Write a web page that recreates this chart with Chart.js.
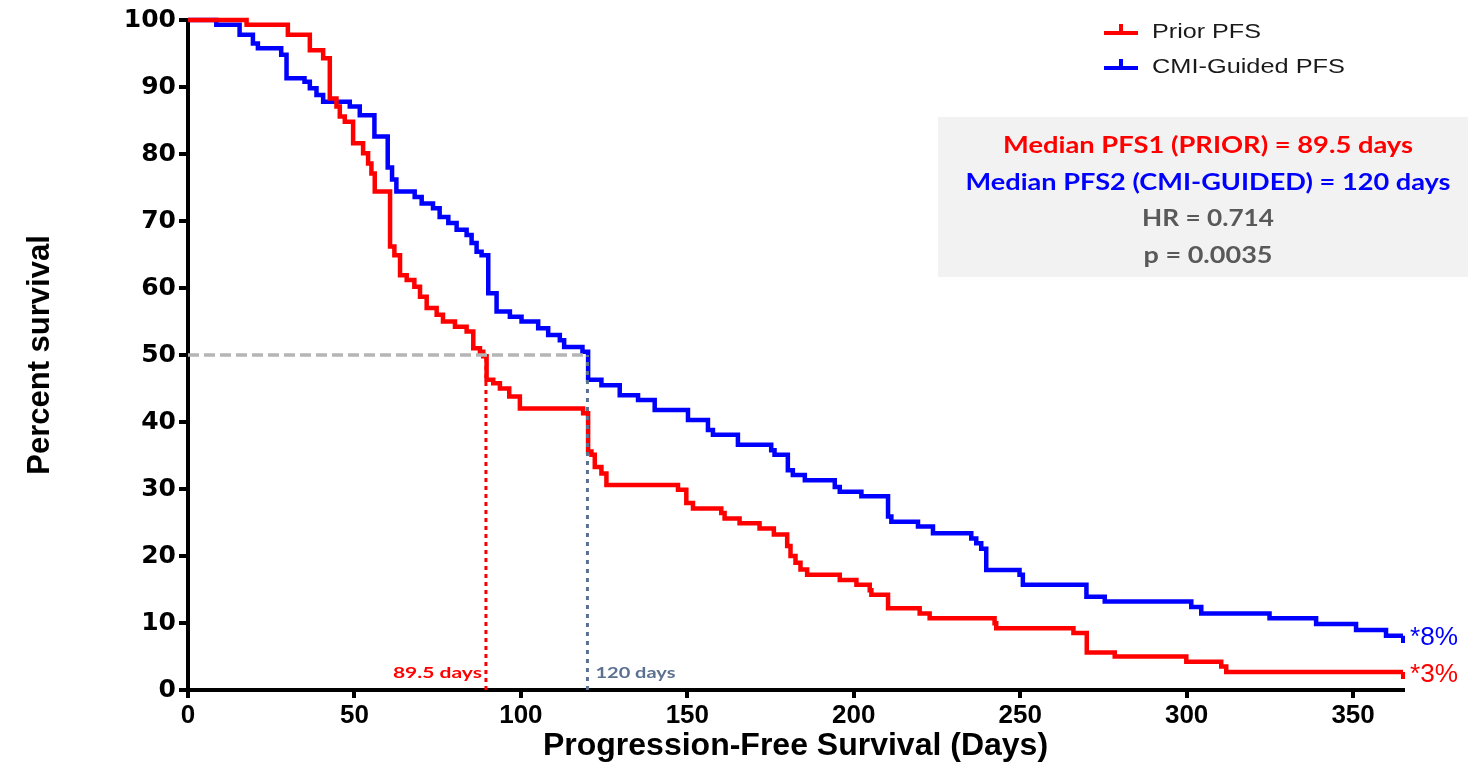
<!DOCTYPE html>
<html>
<head>
<meta charset="utf-8">
<script src="https://cdn.jsdelivr.net/npm/chart.js@4.4.0/dist/chart.umd.min.js"></script>
<style>
  html, body { margin: 0; padding: 0; background: #fff; }
</style>
</head>
<body>
<canvas id="kmChart" width="1468" height="765"></canvas>
<script>
  /* Data
  -----------------------------------------------*/
  const priorDays = [0, 17.6, 30, 36.6, 40.6, 42.6, 44.6, 45.6, 47.1, 49.6, 52.6, 54.1, 55.1, 56.1, 60.7, 62, 63.7, 65.7, 68, 69.7,
    71.7, 74.7, 76.6, 80.2, 83.7, 85.7, 87.7, 88.7, 89.7, 91.7, 93.7, 96.5, 99.7, 118.7, 120.2, 121.2, 122.2, 124.2, 125.7, 147.2,
    149.7, 151.7, 160.2, 161.2, 165.7, 171.7, 176, 180, 181, 182.5, 184, 186, 195.8, 200.8, 204.8, 205.3, 210.3, 219.8, 222.8, 242.3,
    242.8, 266, 270, 278.4, 299.9, 310.4, 311.9, 365];
  const priorPct = [100, 99.3, 97.8, 95.5, 94.3, 88.3, 87.1, 85.6, 84.8, 81.6, 80.1, 78.6, 77.1, 74.4, 66.2, 64.9, 61.9, 61.2, 60.2, 58.7,
    57.0, 56.0, 55.0, 54.2, 53.5, 51.0, 50.5, 49.8, 46.3, 45.8, 45.0, 43.8, 42.0, 41.3, 35.6, 35.1, 33.3, 32.3, 30.6, 29.9,
    27.9, 27.1, 26.4, 25.6, 24.9, 24.1, 23.2, 21.5, 20.0, 19.0, 18.0, 17.2, 16.4, 15.7, 14.9, 14.2, 12.2, 11.4, 10.7, 9.95,
    9.2, 8.5, 5.6, 5.0, 4.2, 3.5, 2.7, 2.7];

  const cmiDays = [0, 8.5, 15.5, 19.5, 21, 28, 29.6, 35, 36.6, 38.6, 40.6, 48.6, 51.6, 56, 60, 61.3, 62.6, 68.1, 70.2, 73.6,
    75.6, 78.2, 80.7, 83.7, 85.2, 86.7, 88.2, 90.2, 92.7, 96.7, 100.2, 105.2, 108.2, 111.7, 113, 118.5, 120.2, 124.2, 129.7, 135.2,
    140.2, 150.2, 156.2, 157.7, 165.2, 175.2, 176.2, 180.2, 181.7, 185.3, 194.3, 195.8, 202.3, 210.3, 211.3, 219.3, 223.8, 235.3, 236.8, 238.3,
    239.8, 249.8, 250.8, 269.9, 275.4, 301.4, 304.4, 324.9, 338.9, 350.9, 359.9, 365];
  const cmiPct = [100, 99.3, 97.8, 96.5, 95.8, 94.8, 91.3, 90.8, 89.8, 88.8, 87.8, 87.1, 85.8, 82.6, 78.0, 76.2, 74.4, 73.6, 72.6, 71.9,
    70.6, 69.7, 68.7, 67.9, 66.7, 65.4, 64.9, 59.2, 56.5, 55.7, 55.0, 54.0, 53.0, 52.2, 51.2, 50.5, 46.3, 45.5, 44.0, 43.3,
    41.8, 40.3, 38.8, 38.1, 36.6, 35.8, 35.1, 32.8, 32.1, 31.3, 30.3, 29.6, 28.9, 25.9, 25.1, 24.4, 23.4, 22.6, 21.9, 21.1,
    17.9, 17.2, 15.7, 13.9, 13.2, 12.4, 11.4, 10.7, 9.85, 8.96, 8.1, 8.1];

  const medianPrior = 89.5;
  const medianCmi = 120;
  const xTicks = [0, 50, 100, 150, 200, 250, 300, 350];
  const yTicks = [0, 10, 20, 30, 40, 50, 60, 70, 80, 90, 100];
  const seriesNames = ['Prior PFS', 'CMI-Guided PFS'];
  const endLabels = ['*3%', '*8%'];
  const statLines = ['Median PFS1 (PRIOR) = 89.5 days', 'Median PFS2 (CMI-GUIDED) = 120 days', 'HR = 0.714', 'p = 0.0035'];

  const RED = '#ff0000';
  const BLUE = '#0000ff';
  const SLATE = '#5b7190';

  function toPoints(xs, ys) {
    return xs.map((d, i) => ({ x: d, y: ys[i] }));
  }

  // small "censored" tick hanging under the last point
  function censorMark(color) {
    const c = document.createElement('canvas');
    c.width = 4; c.height = 14;
    const g = c.getContext('2d');
    g.fillStyle = color;
    g.fillRect(0, 7, 4, 7);
    return c;
  }

  // text squeezed/stretched to a given width
  function fitText(ctx, text, x, y, width, font, color, align) {
    ctx.save();
    ctx.font = font;
    ctx.fillStyle = color;
    ctx.textBaseline = 'middle';
    ctx.textAlign = align;
    const sx = width / ctx.measureText(text).width;
    ctx.translate(x, y);
    ctx.scale(sx, 1);
    ctx.fillText(text, 0, 0);
    ctx.restore();
  }

  /* Legend, stats box and labels
  -----------------------------------------------*/
  const extrasPlugin = {
    id: 'kmExtras',
    afterDraw(chart) {
      const ctx = chart.ctx;
      const xs = chart.scales.x, ys = chart.scales.y;
      const area = chart.chartArea;

      // legend
      [[RED, 33], [BLUE, 68]].forEach(([col, ly], i) => {
        ctx.fillStyle = col;
        ctx.fillRect(1104, ly - 2, 34, 4);
        ctx.fillRect(1119, ly - 9, 4, 8);
        fitText(ctx, seriesNames[i], 1152, ly - 1, i === 0 ? 109 : 193, '20px "Liberation Sans", Arial, sans-serif', '#1a1a1a', 'left');
      });

      // stats box
      ctx.fillStyle = '#f2f2f2';
      ctx.fillRect(938, 117, 1468 - 938, 160);
      const sCols = [RED, BLUE, '#595959', '#595959'];
      const sW = [410, 485, 132, 129];
      statLines.forEach((t, i) => {
        fitText(ctx, t, 1208, 146 + i * 36.5, sW[i], 'bold 22px Lato, "Open Sans", sans-serif', sCols[i], 'center');
      });

      // end-of-curve percentages
      const xe = area.right + 7;
      fitText(ctx, endLabels[1], xe, ys.getPixelForValue(8.1) + 2, 48, '25px "Liberation Sans", Arial, sans-serif', BLUE, 'left');
      fitText(ctx, endLabels[0], xe, ys.getPixelForValue(2.7) + 3, 48, '25px "Liberation Sans", Arial, sans-serif', RED, 'left');

      // median day labels
      const yl = ys.getPixelForValue(2.5);
      fitText(ctx, medianPrior + ' days', xs.getPixelForValue(medianPrior) - 4, yl, 89, 'bold 16px Lato, sans-serif', RED, 'right');
      fitText(ctx, medianCmi + ' days', xs.getPixelForValue(medianCmi) + 8, yl, 80, 'bold 16px Lato, sans-serif', SLATE, 'left');
    }
  };

  const ctx = document.getElementById('kmChart').getContext('2d');
  const kmChart = new Chart(ctx, {
    type: 'line',
    data: {
      datasets: [{
        label: 'median-prior',
        data: [{ x: medianPrior, y: 0 }, { x: medianPrior, y: 50 }],
        borderColor: RED, borderWidth: 3, borderDash: [4, 4],
        pointRadius: 0
      }, {
        label: 'median-cmi',
        data: [{ x: medianCmi, y: 0 }, { x: medianCmi, y: 50 }],
        borderColor: SLATE, borderWidth: 3, borderDash: [4, 5],
        pointRadius: 0
      }, {
        label: 'fifty',
        data: [{ x: 0, y: 50 }, { x: medianCmi, y: 50 }],
        borderColor: '#b5b5b5', borderWidth: 3.5, borderDash: [11, 5],
        pointRadius: 0
      }, {
        label: seriesNames[0],
        data: toPoints(priorDays, priorPct),
        borderColor: RED, borderWidth: 4.5,
        stepped: 'before',
        pointStyle: censorMark(RED),
        pointRadius: c => c.dataIndex === priorDays.length - 1 ? 3 : 0,
        pointHoverRadius: 0,
        clip: 8
      }, {
        label: seriesNames[1],
        data: toPoints(cmiDays, cmiPct),
        borderColor: BLUE, borderWidth: 4.5,
        stepped: 'before',
        pointStyle: censorMark(BLUE),
        pointRadius: c => c.dataIndex === cmiDays.length - 1 ? 3 : 0,
        pointHoverRadius: 0,
        clip: 8
      }]
    },
    options: {
      responsive: false,
      animation: false,
      devicePixelRatio: 1,
      layout: { padding: { left: 0, top: 20, right: 65, bottom: 0 } },
      plugins: { legend: { display: false }, tooltip: { enabled: false } },
      scales: {
        x: {
          type: 'linear', min: 0, max: 365,
          afterBuildTicks: s => { s.ticks = xTicks.map(v => ({ value: v })); },
          afterFit: s => { s.height = 75; },
          border: { display: true, color: '#000', width: 4 },
          grid: { drawOnChartArea: false, color: '#000', lineWidth: 4, tickLength: 8 },
          ticks: {
            autoSkip: false, maxRotation: 0, padding: 2, color: '#000',
            font: { family: '"Liberation Sans", Arial, sans-serif', size: 26, weight: 'bold' }
          },
          title: {
            display: true, text: 'Progression-Free Survival (Days)', color: '#000',
            font: { family: '"Liberation Sans", Arial, sans-serif', size: 32, weight: 'bold' },
            padding: { top: 0, bottom: 0 }
          }
        },
        y: {
          min: 0, max: 100,
          afterBuildTicks: s => { s.ticks = yTicks.map(v => ({ value: v })); },
          afterFit: s => { s.width = 188; },
          border: { display: true, color: '#000', width: 4 },
          grid: { drawOnChartArea: false, color: '#000', lineWidth: 4, tickLength: 9 },
          ticks: {
            padding: 3, color: '#000',
            font: { family: '"DejaVu Sans", sans-serif', size: 25, weight: 'bold' }
          },
          title: {
            display: true, text: 'Percent survival', color: '#000',
            font: { family: '"Liberation Sans", Arial, sans-serif', size: 31, weight: 'bold' },
            padding: { top: 22, bottom: 0 }
          }
        }
      }
    },
    plugins: [extrasPlugin]
  });
</script>
</body>
</html>
